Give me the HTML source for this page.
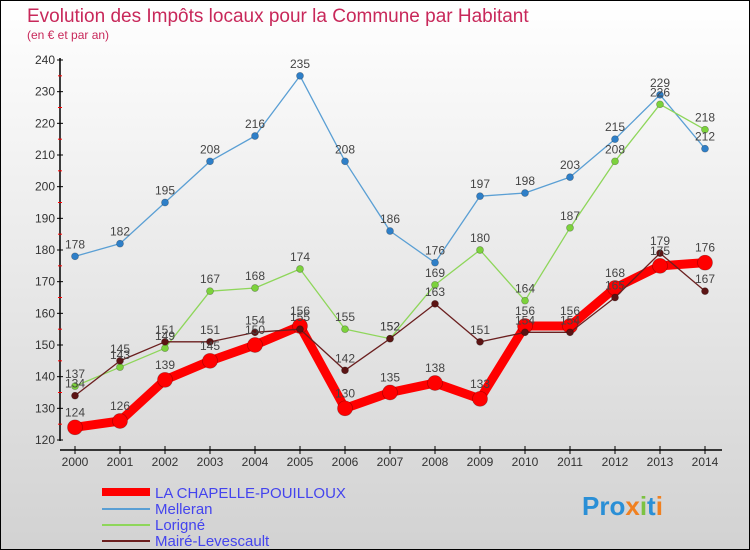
<!DOCTYPE html>
<html><head><meta charset="utf-8"><style>
body{margin:0;width:750px;height:550px;overflow:hidden;font-family:"Liberation Sans",sans-serif}
svg{display:block}
</style></head><body>
<svg id="chart" width="750" height="550" xmlns="http://www.w3.org/2000/svg">
<defs><linearGradient id="bg" x1="0" y1="0" x2="0" y2="1"><stop offset="0" stop-color="#ffffff"/><stop offset="1" stop-color="#d2d2d2"/></linearGradient></defs>
<rect x="0.5" y="0.5" width="749" height="549" fill="url(#bg)" stroke="#000"/>
<text x="27" y="22" font-size="19" fill="#c8285a">Evolution des Impôts locaux pour la Commune par Habitant</text>
<text x="27" y="39" font-size="12" fill="#c8285a">(en € et par an)</text>
<g id="axes"></g><g id="series"></g><g id="labels"></g>
<g>
<line x1="102" y1="492" x2="150" y2="492" stroke="#f00" stroke-width="8"/>
<text x="155" y="498" font-size="15" fill="#4444ee">LA CHAPELLE-POUILLOUX</text>
<line x1="102" y1="509" x2="150" y2="509" stroke="#5a9fd4" stroke-width="2"/>
<text x="155" y="514" font-size="15" fill="#4444ee">Melleran</text>
<line x1="102" y1="525" x2="150" y2="525" stroke="#8ed65a" stroke-width="2"/>
<text x="155" y="530" font-size="15" fill="#4444ee">Lorigné</text>
<line x1="102" y1="541" x2="150" y2="541" stroke="#6b1f1f" stroke-width="2"/>
<text x="155" y="546" font-size="15" fill="#4444ee">Mairé-Levescault</text>
</g>
<text x="582" y="515" font-size="26" font-weight="bold" fill="#2a8fd6">Pro<tspan fill="#f08020">x</tspan><tspan fill="#7cc242">i</tspan>t<tspan fill="#f08020">i</tspan></text>
</svg>
<script>
const years=[2000,2001,2002,2003,2004,2005,2006,2007,2008,2009,2010,2011,2012,2013,2014];
const yTicks=[120,130,140,150,160,170,180,190,200,210,220,230,240];
const chapelle=[124,126,139,145,150,156,130,135,138,133,156,156,168,175,176];
const melleran=[178,182,195,208,216,235,208,186,176,197,198,203,215,229,212];
const lorigne=[137,143,149,167,168,174,155,152,169,180,164,187,208,226,218];
const maire=[134,145,151,151,154,155,142,152,163,151,154,154,165,179,167];
const NS='http://www.w3.org/2000/svg';
const X=i=>75+i*45;
const Y=v=>440-(v-120)*380/120;
function mk(t,a,p){const e=document.createElementNS(NS,t);for(const k in a)e.setAttribute(k,a[k]);p.appendChild(e);return e;}
const ax=document.getElementById('axes');
const yl=mk('line',{x1:60,y1:58,x2:60,y2:441,stroke:'#000','stroke-width':1.5},ax);


const xl=mk('line',{x1:60,y1:450,x2:722,y2:450,stroke:'#000','stroke-width':1.5},ax);


yTicks.forEach((v,i)=>{
 mk('line',{x1:57,y1:Y(v),x2:63,y2:Y(v),stroke:'#000'},ax);
 if(i<yTicks.length-1)mk('line',{x1:58,y1:Y(v+5),x2:62,y2:Y(v+5),stroke:'#f00'},ax);
 const t=mk('text',{x:55,y:Y(v)+4,'font-size':12,'text-anchor':'end',fill:'#333'},ax);
 t.textContent=v;
 
 
});
years.forEach((yr,i)=>{
 mk('line',{x1:X(i),y1:446,x2:X(i),y2:454,stroke:'#000'},ax);
 const t=mk('text',{x:X(i),y:466,'font-size':12,'text-anchor':'middle',fill:'#333'},ax);
 t.textContent=yr;
 
 
});
const sg=document.getElementById('series'),lg=document.getElementById('labels');
function draw(data,color,lw,r,name,dot){
 const pts=data.map((v,i)=>X(i)+','+Y(v)).join(' ');
 const pl=mk('polyline',{points:pts,fill:'none',stroke:color,'stroke-width':lw,'stroke-linejoin':'round'},sg);
 
 
 data.forEach((v,i)=>{
  const c=mk('circle',{cx:X(i),cy:Y(v),r:r,fill:dot,stroke:'rgba(0,0,0,0.3)','stroke-width':0.7},sg);
  
  
  const t=mk('text',{x:X(i),y:Y(v)-8-(r>4?3:0),'font-size':12,'text-anchor':'middle',fill:'#444'},lg);
  t.textContent=v;
  
  
 });
}
draw(melleran,'#5a9fd4',1.3,3.5,'melleran','#2e7fc8');
draw(lorigne,'#8ed65a',1.3,3.5,'lorigne','#7cd23c');
draw(chapelle,'#ff0000',9,7.5,'la-chapelle','#ff0000');
draw(maire,'#6b1f1f',1.3,3.5,'maire','#5c1414');
</script>
</body></html>
